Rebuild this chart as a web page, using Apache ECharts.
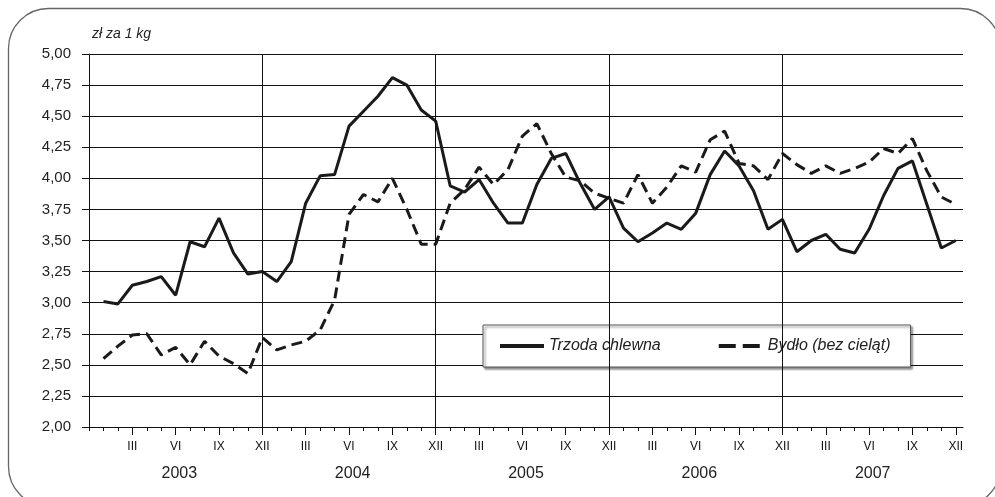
<!DOCTYPE html>
<html><head><meta charset="utf-8">
<script src="https://cdn.jsdelivr.net/npm/echarts@6/dist/echarts.min.js"></script>
<style>html,body{margin:0;padding:0;background:#fff}#c{width:995px;height:497px}</style>
</head><body><div id="c"></div>
<script>
// months 1..60 = I 2003 .. XII 2007
const years = ['2003', '2004', '2005', '2006', '2007'];
const quarterLabels = ['III', 'VI', 'IX', 'XII'];
const seriesNames = ['Trzoda chlewna', 'Bydło (bez cieląt)'];
const unitLabel = 'zł za 1 kg';
const trzoda = [3.01,2.99,3.14,3.17,3.21,3.06,3.49,3.45,3.68,3.40,3.23,3.25,
  3.17,3.33,3.80,4.02,4.03,4.42,4.54,4.66,4.81,4.75,4.55,4.46,
  3.94,3.89,3.99,3.80,3.64,3.64,3.95,4.16,4.20,3.96,3.75,3.85,
  3.60,3.49,3.56,3.64,3.59,3.72,4.03,4.22,4.10,3.90,3.59,3.67,
  3.41,3.50,3.55,3.43,3.40,3.59,3.86,4.08,4.14,3.79,3.44,3.50];
const bydlo = [2.55,2.65,2.74,2.75,2.58,2.64,2.50,2.69,2.57,2.51,2.43,2.72,
  2.62,2.66,2.69,2.78,3.02,3.71,3.87,3.81,4.00,3.75,3.47,3.47,
  3.80,3.91,4.09,3.95,4.07,4.34,4.44,4.20,4.01,3.98,3.88,3.84,
  3.80,4.03,3.80,3.93,4.10,4.05,4.31,4.38,4.12,4.10,3.99,4.20,
  4.11,4.04,4.10,4.04,4.08,4.13,4.24,4.20,4.32,4.06,3.85,3.79];

const monthTicks = [];
for (let i = 0; i <= 60; i++) monthTicks.push(i);
const quarterTicks = [];
for (let i = 3; i <= 60; i += 3) quarterTicks.push(i);
const yearCenters = years.map((y, k) => k * 12 + 6.25);
const yearLines = [12, 24, 36, 48];
const toPairs = arr => arr.map((v, i) => [i + 1, v]);

const FONT = 'Liberation Sans, Arial, sans-serif';
const chart = echarts.init(document.getElementById('c'), null, {renderer: 'canvas'});
const baseX = {type: 'value', min: 0, max: 60.5, position: 'bottom', splitLine: {show: false}};
chart.setOption({
  animation: false,
  backgroundColor: '#fff',
  graphic: [{
    type: 'rect', silent: true,
    shape: {x: 8.5, y: 8.5, width: 992, height: 498, r: 40},
    style: {fill: 'none', stroke: '#666', lineWidth: 1.3}
  }, {
    type: 'text', left: 92, top: 27,
    style: {text: unitLabel, font: 'italic 14px ' + FONT, fill: '#222'}
  }],
  grid: {left: 89, right: 32, top: 54, bottom: 70},
  legend: {
    left: 483, top: 325,
    padding: [13, 20, 13, 15], itemGap: 56, itemWidth: 44, itemHeight: 14,
    backgroundColor: '#fff', borderColor: '#555', borderWidth: 1,
    shadowColor: 'rgba(0,0,0,0.45)', shadowOffsetX: 2, shadowOffsetY: 2, shadowBlur: 2,
    itemStyle: {opacity: 0},
    lineStyle: {width: 4},
    textStyle: {fontFamily: FONT, fontSize: 16, fontStyle: 'italic', color: '#222'},
    data: [{name: seriesNames[0]}, {name: seriesNames[1], lineStyle: {width: 4, type: [17, 7]}}]
  },
  xAxis: [
    Object.assign({}, baseX, {
      axisLine: {show: true, lineStyle: {color: '#111', width: 1}},
      axisTick: {show: true, customValues: monthTicks, length: 4, lineStyle: {color: '#111'}},
      axisLabel: {show: false}
    }),
    Object.assign({}, baseX, {
      axisLine: {show: false},
      axisTick: {show: true, customValues: quarterTicks, length: 8, lineStyle: {color: '#111'}},
      axisLabel: {show: true, customValues: quarterTicks, margin: 14,
        fontFamily: FONT, fontSize: 12, color: '#111',
        formatter: v => quarterLabels[(Math.round(v) / 3 - 1) % 4]}
    }),
    Object.assign({}, baseX, {
      axisLine: {show: false},
      axisTick: {show: false},
      axisLabel: {show: true, customValues: yearCenters, margin: 39,
        fontFamily: FONT, fontSize: 16, color: '#222',
        formatter: v => years[Math.floor(v / 12)]}
    })
  ],
  yAxis: {
    type: 'value', min: 2, max: 5, interval: 0.25,
    axisLine: {show: true, lineStyle: {color: '#111'}},
    axisTick: {show: true, length: 7, lineStyle: {color: '#111'}},
    axisLabel: {margin: 18, fontFamily: FONT, fontSize: 15, color: '#222',
      formatter: v => v.toFixed(2).replace('.', ',')},
    splitLine: {show: true, lineStyle: {color: '#111', width: 1}}
  },
  series: [{
    name: seriesNames[0], type: 'line', xAxisIndex: 0, data: toPairs(trzoda),
    symbol: 'none', lineStyle: {color: '#1a1a1a', width: 3}, itemStyle: {color: '#1a1a1a'},
    z: 3,
    markLine: {silent: true, symbol: 'none', label: {show: false},
      lineStyle: {color: '#111', width: 1, type: 'solid'},
      data: yearLines.map(v => ({xAxis: v}))}
  }, {
    name: seriesNames[1], type: 'line', xAxisIndex: 0, data: toPairs(bydlo),
    symbol: 'none', lineStyle: {color: '#1a1a1a', width: 3, type: [11, 6]}, itemStyle: {color: '#1a1a1a'},
    z: 3
  }]
});
</script></body></html>
